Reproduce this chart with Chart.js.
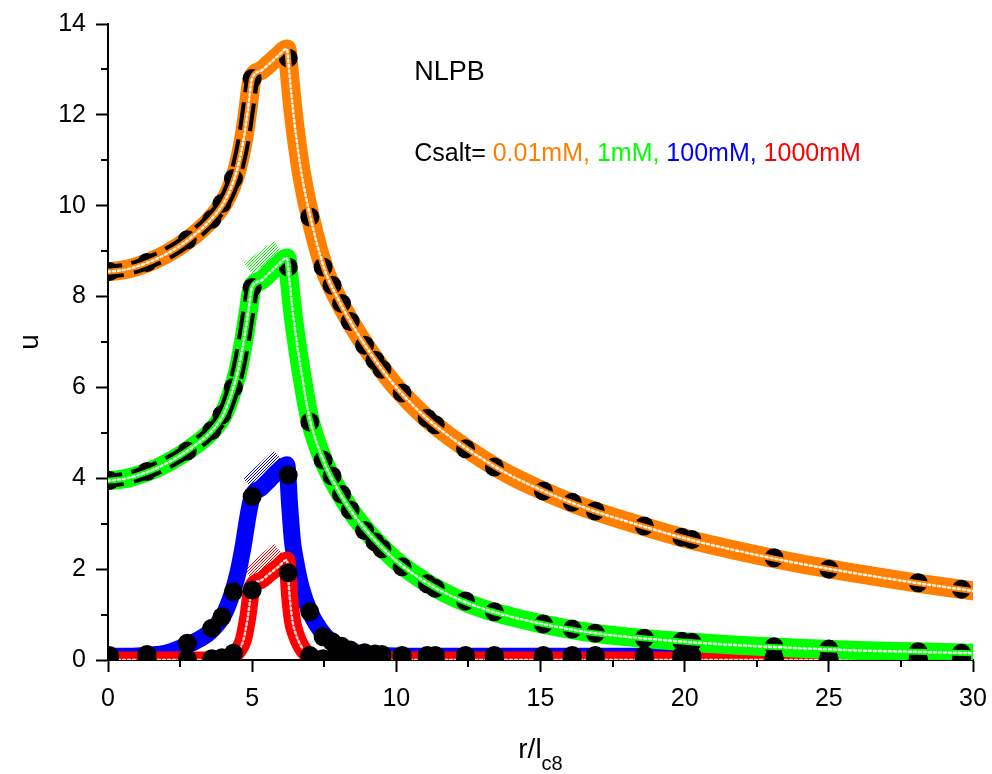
<!DOCTYPE html>
<html>
<head>
<meta charset="utf-8">
<script src="https://cdn.jsdelivr.net/npm/chart.js@4.4.1/dist/chart.umd.min.js"></script>
<style>
  html, body { margin: 0; padding: 0; background: #fff; }
  #wrap { width: 992px; height: 774px; position: relative; }
</style>
</head>
<body>
<div id="wrap"><canvas id="chart"></canvas></div>
<script>
// smooth model curves (thick coloured bands)
const bandX   = [0, 0.5, 1, 1.5, 2, 2.5, 3, 3.5, 4, 4.3, 4.5, 4.7, 4.85, 5.0, 5.3, 5.6, 5.9, 6.2, 6.3, 6.4, 6.5, 6.7, 7.0, 7.5, 8, 8.5, 9, 9.5, 10, 11, 12, 13, 14, 15, 16, 17, 18, 20, 22, 24, 26, 28, 30];
const orangeY = [8.55, 8.58, 8.66, 8.78, 8.93, 9.12, 9.36, 9.65, 10.05, 10.45, 10.85, 11.45, 12.1, 12.8, 12.97, 13.13, 13.3, 13.45, 12.85, 12.2, 11.65, 10.75, 9.8, 8.62, 7.92, 7.35, 6.85, 6.4, 6.0, 5.35, 4.85, 4.42, 4.05, 3.75, 3.48, 3.25, 3.05, 2.68, 2.38, 2.12, 1.9, 1.7, 1.52];
const greenY  = [3.95, 3.98, 4.06, 4.17, 4.32, 4.5, 4.72, 4.98, 5.4, 5.9, 6.35, 7.0, 7.6, 8.2, 8.35, 8.52, 8.7, 8.85, 8.3, 7.7, 7.2, 6.35, 5.3, 4.35, 3.72, 3.22, 2.82, 2.48, 2.18, 1.72, 1.38, 1.13, 0.95, 0.8, 0.68, 0.58, 0.51, 0.4, 0.32, 0.26, 0.21, 0.18, 0.15];
const blueY   = [0.08, 0.08, 0.09, 0.11, 0.15, 0.26, 0.4, 0.6, 0.98, 1.45, 1.9, 2.55, 3.15, 3.6, 3.78, 3.97, 4.16, 4.3, 3.4, 2.6, 2.2, 1.6, 1.06, 0.55, 0.3, 0.18, 0.12, 0.1, 0.09, 0.08, 0.08, 0.08, 0.08, 0.08, 0.08, 0.08, 0.08, 0.08, 0.05, 0.02, 0.01, 0.01, 0.01];
const redY    = [0, 0, 0, 0, 0, 0, 0, 0, 0.03, 0.1, 0.2, 0.45, 0.95, 1.6, 1.75, 1.9, 2.05, 2.2, 1.4, 0.85, 0.6, 0.3, 0.08, 0.01, 0, 0, 0, 0, 0, 0, 0, 0, 0, 0, 0, 0, 0, 0, 0, 0, 0, 0, 0];

// hatched strip along the rod section (x = 5 ... 6.2)
const hatchX     = [4.85, 5.9];
const greenHatch = [8.62, 9.1];
const blueHatch  = [3.88, 4.5];
const redHatch   = [1.88, 2.45];

// black symbols
const dotX      = [0.05, 1.35, 2.75, 3.6, 3.95, 4.35, 5.0, 6.25, 7.0, 7.46, 7.77, 8.1, 8.4, 8.9, 9.26, 9.5, 10.2, 11.07, 11.35, 12.4, 13.4, 15.1, 16.1, 16.9, 18.6, 19.9, 20.25, 23.1, 25.0, 28.1, 29.6];
const orangeDot = [8.55, 8.75, 9.25, 9.7, 10.05, 10.6, 12.8, 13.25, 9.75, 8.65, 8.25, 7.85, 7.45, 6.93, 6.6, 6.4, 5.88, 5.32, 5.18, 4.65, 4.25, 3.72, 3.47, 3.28, 2.95, 2.7, 2.65, 2.25, 2.0, 1.7, 1.56];
const greenDot  = [3.95, 4.15, 4.6, 5.05, 5.4, 6.0, 8.2, 8.65, 5.24, 4.4, 4.05, 3.65, 3.3, 2.85, 2.6, 2.45, 2.05, 1.68, 1.58, 1.3, 1.06, 0.79, 0.68, 0.59, 0.48, 0.41, 0.39, 0.29, 0.24, 0.18, 0.15];
const blueDot   = [0.1, 0.12, 0.37, 0.7, 0.95, 1.5, 3.6, 4.07, 1.06, 0.51, 0.4, 0.3, 0.22, 0.16, 0.13, 0.12, 0.1, 0.1, 0.1, 0.1, 0.1, 0.1, 0.1, 0.1, 0.1, 0.1, 0.1, 0.05, 0.04, 0.03, 0.03];
const redDot    = [0.02, 0.02, 0.02, 0.03, 0.05, 0.15, 1.54, 1.92, 0.1, 0.03, 0.02, 0.02, 0.02, 0.02, 0.02, 0.02, 0.02, 0.02, 0.02, 0.02, 0.02, 0.02, 0.02, 0.02, 0.02, 0.02, 0.02, 0.02, 0.02, 0.02, 0.02];

const xTicks = [0, 5, 10, 15, 20, 25, 30];
const yTicks = [0, 2, 4, 6, 8, 10, 12, 14];
const xMinor = [2.5, 7.5, 12.5, 17.5, 22.5, 27.5];
const yMinor = [1, 3, 5, 7, 9, 11, 13];

const saltParts  = ["Csalt= ", "0.01mM, ", "1mM, ", "100mM, ", "1000mM"];
const saltColors = ["#000000", "#ff8000", "#00ff00", "#0000ff", "#ff0000"];

const FONT = '"Liberation Sans", Arial, sans-serif';
const pts = (xs, ys) => xs.map((x, i) => ({ x, y: ys[i] }));
const RISE = 14; // points of bandX up to x = 5

function line(xs, ys, color, width, order, extra) {
    return Object.assign({ data: pts(xs, ys), showLine: true, borderColor: color, borderWidth: width,
             pointRadius: 0, cubicInterpolationMode: 'monotone', borderJoinStyle: 'round',
             borderCapStyle: 'round', order }, extra || {});
}
function circles(ys) {
    return { data: pts(dotX, ys), showLine: false, pointRadius: 9.5, pointBorderWidth: 0,
             pointBackgroundColor: '#000', order: 4 };
}
function hatch(color) {
    const c = document.createElement('canvas');
    c.width = 3; c.height = 3;
    const g = c.getContext('2d');
    g.fillStyle = '#fff'; g.fillRect(0, 0, 3, 3);
    g.fillStyle = color;
    g.fillRect(0, 2, 1, 1); g.fillRect(1, 1, 1, 1); g.fillRect(2, 0, 1, 1);
    return g.createPattern(c, 'repeat');
}
const whiteDots = { borderDash: [2, 3] };
const blackDash = { borderDash: [28, 10], borderDashOffset: 13, borderCapStyle: 'butt' };

// minor ticks, axis titles and the text notes
const decor = {
    id: 'decor',
    afterDraw(chart) {
        const { ctx, chartArea: a, scales: { x, y } } = chart;
        ctx.save();
        ctx.strokeStyle = '#000';
        ctx.lineWidth = 2;
        xMinor.forEach(v => {
            const px = Math.round(x.getPixelForValue(v));
            ctx.beginPath(); ctx.moveTo(px, a.bottom); ctx.lineTo(px, a.bottom + 7); ctx.stroke();
        });
        yMinor.forEach(v => {
            const py = Math.round(y.getPixelForValue(v));
            ctx.beginPath(); ctx.moveTo(a.left, py); ctx.lineTo(a.left - 7, py); ctx.stroke();
        });

        ctx.fillStyle = '#000';
        ctx.textBaseline = 'alphabetic';
        // x title r/l with subscript c8
        ctx.font = '28px ' + FONT;
        const w1 = ctx.measureText('r/l').width;
        ctx.font = '20px ' + FONT;
        const w2 = ctx.measureText('c8').width;
        const tx = (a.left + a.right) / 2 - (w1 + w2) / 2;
        ctx.font = '28px ' + FONT;
        ctx.fillText('r/l', tx, 758);
        ctx.font = '20px ' + FONT;
        ctx.fillText('c8', tx + w1, 770);

        // y title
        ctx.save();
        ctx.translate(30, (a.top + a.bottom) / 2);
        ctx.rotate(-Math.PI / 2);
        ctx.font = '28px ' + FONT;
        ctx.textAlign = 'center';
        ctx.textBaseline = 'middle';
        ctx.fillText('u', 0, 0);
        ctx.restore();

        // notes
        const nx = x.getPixelForValue(10.62);
        ctx.font = '27px ' + FONT;
        ctx.fillText('NLPB', nx, y.getPixelForValue(12.77));
        ctx.font = '25px ' + FONT;
        let sx = nx;
        const sy = y.getPixelForValue(10.98);
        saltParts.forEach((t, i) => {
            ctx.fillStyle = saltColors[i];
            ctx.fillText(t, sx, sy);
            sx += ctx.measureText(t).width;
        });
        ctx.restore();
    }
};

new Chart(document.getElementById('chart'), {
    type: 'scatter',
    data: {
        datasets: [
            line(bandX, orangeY, 'rgba(255,255,255,0.9)', 2.5, 0, whiteDots),
            line(bandX, orangeY, '#ff8000', 6, 1),
            line(bandX, greenY, 'rgba(255,255,255,0.9)', 2.5, 2, whiteDots),
            line(bandX, greenY, '#00ff00', 6, 3),
            line(bandX.slice(0, RISE), orangeY.slice(0, RISE), '#000', 14, 4, blackDash),
            line(bandX.slice(0, RISE), greenY.slice(0, RISE), '#000', 14, 4, blackDash),
            circles(orangeDot), circles(greenDot), circles(blueDot), circles(redDot),
            line(bandX, orangeY, '#ff8000', 19, 5),
            line(bandX, greenY, '#00ff00', 19, 6),
            line(bandX, redY, 'rgba(255,255,255,0.85)', 2.5, 7, whiteDots),
            line(bandX, redY, '#ff0000', 17, 8),
            line(bandX, blueY, '#0000ff', 17, 9),
            line(hatchX, greenHatch, hatch('#00ff00'), 14, 10, { borderCapStyle: 'butt' }),
            line(hatchX, blueHatch, hatch('#0000ff'), 14, 10, { borderCapStyle: 'butt' }),
            line(hatchX, redHatch, hatch('#ff0000'), 14, 10, { borderCapStyle: 'butt' })
        ]
    },
    options: {
        responsive: true,
        maintainAspectRatio: false,
        animation: false,
        events: [],
        layout: { padding: { left: 0, top: 24, right: 19, bottom: 0 } },
        plugins: { legend: { display: false }, tooltip: { enabled: false } },
        scales: {
            x: {
                type: 'linear', min: 0, max: 30,
                border: { color: '#000', width: 2 },
                grid: { drawOnChartArea: false, tickLength: 12, tickWidth: 2, tickColor: '#000' },
                ticks: { color: '#000', font: { family: FONT, size: 25 }, padding: 12, maxRotation: 0 },
                afterBuildTicks: s => { s.ticks = xTicks.map(v => ({ value: v })); },
                afterFit: s => { s.height = 114; s.paddingLeft = 0; s.paddingRight = 0; }
            },
            y: {
                type: 'linear', min: 0, max: 14,
                border: { color: '#000', width: 2 },
                grid: { drawOnChartArea: false, tickLength: 12, tickWidth: 2, tickColor: '#000' },
                ticks: { color: '#000', font: { family: FONT, size: 25 }, padding: 10 },
                afterBuildTicks: s => { s.ticks = yTicks.map(v => ({ value: v })); },
                afterFit: s => { s.width = 108; s.paddingTop = 0; s.paddingBottom = 0; }
            }
        }
    },
    plugins: [decor]
});
</script>
</body>
</html>
